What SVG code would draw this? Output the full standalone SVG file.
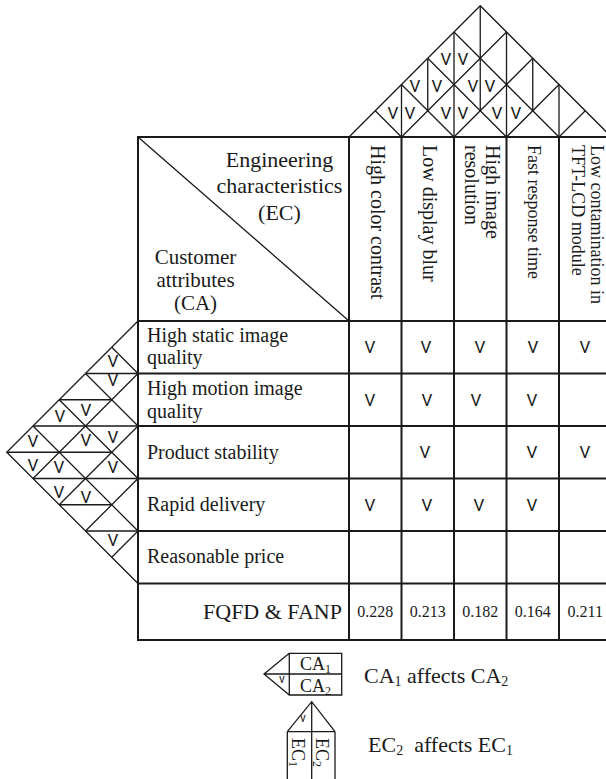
<svg xmlns="http://www.w3.org/2000/svg" width="606" height="779" viewBox="0 0 606 779">
<style>
.g{stroke:#1a1a1a;stroke-width:2;fill:none;stroke-linecap:square}
.t{stroke:#1a1a1a;stroke-width:1.3;fill:none}
.tx{font-family:"Liberation Serif","Times New Roman",serif;fill:#1a1a1a}
.f22{font-size:22px}
.f21{font-size:21px}
.f20{font-size:20px}
.f18{font-size:18px}
.f16{font-size:16px}
.ck{font-family:Roboto,"Liberation Sans",sans-serif;font-weight:400;font-size:17px;fill:#1a1a1a;text-anchor:middle}
.cks{font-family:Roboto,"Liberation Sans",sans-serif;font-weight:400;font-size:12px;fill:#1a1a1a;text-anchor:middle}
.mid{text-anchor:middle}
.end{text-anchor:end}
</style>
<rect width="606" height="779" fill="#fff"/>

<g id="roof">
  <path class="t" d="M349,137 L480.25,5.75 L611.5,137"/>
  <path class="t" d="M401.5,137 L506.5,32 M454,137 L532.75,58.25 M506.5,137 L559,84.5 M559,137 L585.25,110.75"/>
  <path class="t" d="M401.5,137 L375.25,110.75 M454,137 L401.5,84.5 M506.5,137 L427.75,58.25 M559,137 L454,32"/>
  <path class="t" d="M401.5,84.5 V137 M427.75,58.25 V110.75 M454,32 V137 M480.25,5.75 V110.75 M506.5,32 V137 M532.75,58.25 V110.75 M559,84.5 V137"/>
  <text class="ck" x="393" y="119">V</text>
  <text class="ck" x="410" y="119">V</text>
  <text class="ck" x="446" y="119">V</text>
  <text class="ck" x="463" y="119">V</text>
  <text class="ck" x="497" y="119">V</text>
  <text class="ck" x="516" y="119">V</text>
  <text class="ck" x="415" y="92">V</text>
  <text class="ck" x="437" y="92">V</text>
  <text class="ck" x="473" y="92">V</text>
  <text class="ck" x="490" y="92">V</text>
  <text class="ck" x="446" y="65">V</text>
  <text class="ck" x="463" y="65">V</text>
</g>

<g id="wall">
  <path class="t" d="M138,321 L6.75,452.25 L138,583.5"/>
  <path class="t" d="M138,373.5 L111.75,347.25 M138,426 L85.5,373.5 M138,478.5 L59.25,399.75 M138,531 L33,426"/>
  <path class="t" d="M138,373.5 L33,478.5 M138,426 L59.25,504.75 M138,478.5 L85.5,531 M138,531 L111.75,557.25"/>
  <path class="t" d="M85.5,373.5 H138 M33,426 H138 M33,478.5 H138 M85.5,531 H138 M59.25,399.75 H111.75 M6.75,452.25 H111.75 M59.25,504.75 H111.75"/>
  <text class="ck" x="113" y="367">V</text>
  <text class="ck" x="113" y="386">V</text>
  <text class="ck" x="86" y="416">V</text>
  <text class="ck" x="60" y="422">V</text>
  <text class="ck" x="113" y="443">V</text>
  <text class="ck" x="86" y="446">V</text>
  <text class="ck" x="33" y="447">V</text>
  <text class="ck" x="33" y="471">V</text>
  <text class="ck" x="59" y="473">V</text>
  <text class="ck" x="113" y="473">V</text>
  <text class="ck" x="59" y="498">V</text>
  <text class="ck" x="86" y="503">V</text>
  <text class="ck" x="113" y="546">V</text>
</g>

<g id="grid">
  <path class="g" d="M138,137 H611.5 M138,321 H611.5 M138,373.5 H611.5 M138,426 H611.5 M138,478.5 H611.5 M138,531 H611.5 M138,583.5 H611.5 M138,640 H611.5"/>
  <path class="g" d="M138,137 V640 M349,137 V640 M401.5,137 V640 M454,137 V640 M506.5,137 V640 M559,137 V640"/>
</g>

<g id="header">
  <path class="t" d="M138,137 L349,321"/>
  <text class="tx f22 mid" x="279.5" y="167">Engineering</text>
  <text class="tx f22 mid" x="279.5" y="193">characteristics</text>
  <text class="tx f22 mid" x="279.5" y="220">(EC)</text>
  <text class="tx f21 mid" x="195.5" y="264">Customer</text>
  <text class="tx f21 mid" x="195.5" y="287">attributes</text>
  <text class="tx f21 mid" x="195.5" y="310">(CA)</text>
</g>

<g id="ec1"><text class="tx f20" transform="translate(371,145) rotate(90)">High color contrast</text></g>
<g id="ec2"><text class="tx f20" transform="translate(423,145) rotate(90)">Low display blur</text></g>
<g id="ec3"><text class="tx f20" transform="translate(486,145) rotate(90)">High image</text><text class="tx f20" transform="translate(465,145) rotate(90)">resolution</text></g>
<g id="ec4"><text class="tx f18" transform="translate(528,145) rotate(90)">Fast response time</text></g>
<g id="ec5"><text class="tx f18" transform="translate(591,145) rotate(90)">Low contamination in</text><text class="tx f18" transform="translate(572,145) rotate(90)">TFT-LCD module</text></g>

<g id="ca1">
  <text class="tx f20" x="147" y="342">High static image</text>
  <text class="tx f20" x="147" y="364">quality</text>
  <text class="ck" x="370" y="353">V</text><text class="ck" x="426" y="353">V</text><text class="ck" x="480" y="353">V</text><text class="ck" x="533" y="353">V</text><text class="ck" x="585" y="353">V</text>
</g>
<g id="ca2">
  <text class="tx f20" x="147" y="394.5">High motion image</text>
  <text class="tx f20" x="147" y="417.5">quality</text>
  <text class="ck" x="370" y="406">V</text><text class="ck" x="427" y="406">V</text><text class="ck" x="476" y="406">V</text><text class="ck" x="532" y="406">V</text>
</g>
<g id="ca3">
  <text class="tx f20" x="147" y="459">Product stability</text>
  <text class="ck" x="425" y="458">V</text><text class="ck" x="532" y="458">V</text><text class="ck" x="585" y="458">V</text>
</g>
<g id="ca4">
  <text class="tx f20" x="147" y="511">Rapid delivery</text>
  <text class="ck" x="370" y="511">V</text><text class="ck" x="427" y="511">V</text><text class="ck" x="479" y="511">V</text><text class="ck" x="532" y="511">V</text>
</g>
<g id="ca5">
  <text class="tx f20" x="147" y="563">Reasonable price</text>
</g>

<g id="weights">
  <text class="tx f22 end" x="342" y="619">FQFD &amp; FANP</text>
  <text class="tx f16 mid" x="375.25" y="617">0.228</text>
  <text class="tx f16 mid" x="427.75" y="617">0.213</text>
  <text class="tx f16 mid" x="480.25" y="617">0.182</text>
  <text class="tx f16 mid" x="532.75" y="617">0.164</text>
  <text class="tx f16 mid" x="585.25" y="617">0.211</text>
</g>

<g id="legend-ca">
  <path class="t" d="M289.3,653.3 H341.7 V695 H289.3 Z M264,674 H341.7 M289.3,653.3 L264,674 L289.3,695"/>
  <text class="cks" x="282" y="683">v</text>
  <text class="tx f18 mid" x="315.5" y="670">CA<tspan font-size="12" dy="3">1</tspan></text>
  <text class="tx f18 mid" x="315.5" y="692">CA<tspan font-size="12" dy="3">2</tspan></text>
  <text class="tx f22" x="364" y="683">CA<tspan font-size="14" dy="3">1</tspan><tspan dy="-3"> affects CA</tspan><tspan font-size="14" dy="3">2</tspan></text>
</g>

<g id="legend-ec">
  <path class="t" d="M287.3,731.7 L311.7,701.7 L335,731.7 M287.3,731.7 H335 M287.3,731.7 V790 M335,731.7 V790 M311.7,701.7 V790"/>
  <text class="cks" x="303" y="722">v</text>
  <text class="tx f18" transform="translate(292,738) rotate(90)">EC<tspan font-size="12" dy="3">1</tspan></text>
  <text class="tx f18" transform="translate(316,738) rotate(90)">EC<tspan font-size="12" dy="3">2</tspan></text>
  <text class="tx f22" x="368" y="752" xml:space="preserve">EC<tspan font-size="14" dy="3">2</tspan><tspan dy="-3">  affects EC</tspan><tspan font-size="14" dy="3">1</tspan></text>
</g>
</svg>
